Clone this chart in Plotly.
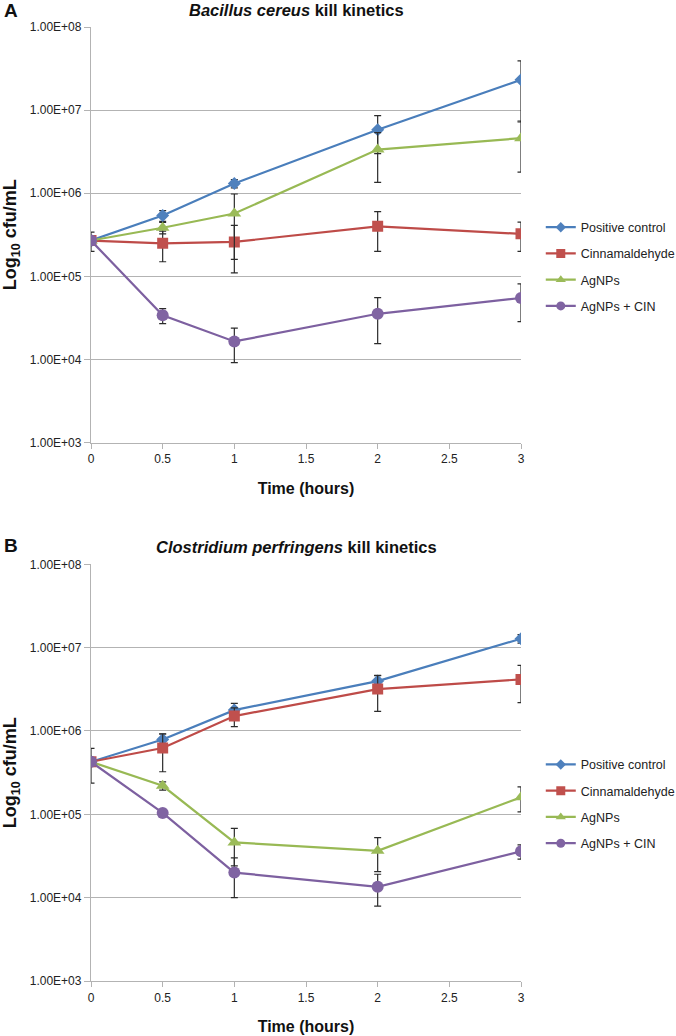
import plotly.graph_objects as go

# ---------------- data ----------------
time_h = [0, 0.5, 1, 2, 3]
series_names = ["Positive control", "Cinnamaldehyde", "AgNPs", "AgNPs + CIN"]

# Panel A: Bacillus cereus
A_pos = [2.7e5, 5.4e5, 1.31e6, 5.8e6, 2.32e7]
A_pos_sd = [2.0e4, 8.0e4, 1.5e5, 2.8e6, 1.6e7]
A_cin = [2.7e5, 2.5e5, 2.6e5, 4.0e5, 3.25e5]
A_cin_sd = [7.0e4, 1.0e5, 1.5e5, 2.0e5, 1.25e5]
A_ag = [2.7e5, 3.85e5, 5.7e5, 3.35e6, 4.6e6]
A_ag_sd = [2.0e4, 6.0e4, 4.1e5, 2.0e6, 2.8e6]
A_mix = [2.7e5, 3.4e4, 1.65e4, 3.55e4, 5.5e4]
A_mix_sd = [1.0e4, 7.0e3, 7.3e3, 2.0e4, 2.65e4]

# Panel B: Clostridium perfringens
B_pos = [4.27e5, 7.9e5, 1.78e6, 3.97e6, 1.28e7]
B_pos_sd = [1.0e4, 1.3e5, 3.6e5, 6.5e5, 1.5e6]
B_cin = [4.27e5, 6.24e5, 1.51e6, 3.18e6, 4.16e6]
B_cin_sd = [1.9e5, 3.0e5, 3.8e5, 1.46e6, 1.97e6]
B_ag = [4.27e5, 2.2e5, 4.6e4, 3.65e4, 1.6e5]
B_ag_sd = [1.0e4, 2.5e4, 2.2e4, 1.6e4, 5.3e4]
B_mix = [4.27e5, 1.04e5, 2.0e4, 1.35e4, 3.6e4]
B_mix_sd = [1.0e4, 5.0e3, 1.0e4, 5.6e3, 7.0e3]

y_tickvals = [1e3, 1e4, 1e5, 1e6, 1e7, 1e8]
y_ticktext = ["1.00E+03", "1.00E+04", "1.00E+05", "1.00E+06", "1.00E+07", "1.00E+08"]
x_tickvals = [0, 0.5, 1, 1.5, 2, 2.5, 3]
x_ticktext = ["0", "0.5", "1", "1.5", "2", "2.5", "3"]

# ---------------- styles ----------------
FONT = "Liberation Sans, Arial, sans-serif"
line_colors = ["#4A7EBB", "#BE4B48", "#98B954", "#7D60A0"]
marker_colors = ["#4F81BD", "#C0504D", "#9BBB59", "#8064A2"]
symbols = ["diamond", "square", "triangle-up", "circle"]
msizes = [10, 11, 12, 12]
legend_msizes = [8, 9, 9, 9]
GRID = "#B3B3B3"
ERR = "#2b2b2b"

fig = go.Figure()

panels = [
    ("x", "y", "legend", [(A_pos, A_pos_sd), (A_cin, A_cin_sd), (A_ag, A_ag_sd), (A_mix, A_mix_sd)]),
    ("x2", "y2", "legend2", [(B_pos, B_pos_sd), (B_cin, B_cin_sd), (B_ag, B_ag_sd), (B_mix, B_mix_sd)]),
]

for xa, ya, lg, data in panels:
    for i, (vals, sd) in enumerate(data):
        fig.add_trace(go.Scatter(
            x=time_h, y=vals, xaxis=xa, yaxis=ya,
            mode="lines+markers", name=series_names[i], showlegend=False,
            line=dict(color=line_colors[i], width=2.2),
            marker=dict(symbol=symbols[i], size=msizes[i], color=marker_colors[i],
                        line=dict(width=0)),
            error_y=dict(type="data", array=sd, visible=True, color=ERR,
                         thickness=1.2, width=3.5),
            hoverinfo="skip",
        ))
    # legend entries
    for i in range(4):
        fig.add_trace(go.Scatter(
            x=[None], y=[None], xaxis=xa, yaxis=ya,
            mode="lines+markers", name=series_names[i], legend=lg,
            legendgroup=f"{lg}_{i}",
            line=dict(color=line_colors[i], width=2.2),
            marker=dict(symbol=symbols[i], size=legend_msizes[i], color=marker_colors[i],
                        line=dict(width=0)),
        ))

xaxis_common = dict(
    range=[0, 3], tickvals=x_tickvals, ticktext=x_ticktext, automargin=False,
    showgrid=False, zeroline=False, showline=True, linecolor=GRID, linewidth=1.3,
    ticks="outside", ticklen=5, tickcolor=GRID, tickwidth=1.3,
    tickfont=dict(family=FONT, size=12, color="#222"),
    title=dict(text="<b>Time (hours)</b>", font=dict(family=FONT, size=16, color="#111"),
               standoff=17),
)
yaxis_common = dict(
    type="log", range=[3, 8.0001], tickvals=y_tickvals, ticktext=y_ticktext, automargin=False,
    showgrid=True, gridcolor=GRID, gridwidth=1.3, zeroline=False,
    showline=True, linecolor=GRID, linewidth=1.3,
    ticks="outside", ticklen=6, tickcolor=GRID, tickwidth=1.3,
    tickfont=dict(family=FONT, size=12, color="#222"),
    title=dict(text="<b>Log<sub>10</sub> cfu/mL</b>", font=dict(family=FONT, size=18, color="#111"),
               standoff=8),
)

legend_common = dict(
    font=dict(family=FONT, size=12.5, color="#222"),
    bgcolor="rgba(0,0,0,0)", borderwidth=0,
    traceorder="grouped", tracegroupgap=7,
    xanchor="left", yanchor="top", x=1.046,
)

fig.update_layout(
    width=676, height=1036,
    margin=dict(l=91, r=155, t=27, b=55, autoexpand=False),
    paper_bgcolor="white", plot_bgcolor="white",
    font=dict(family=FONT),
    xaxis=dict(**xaxis_common, domain=[0, 1], anchor="y"),
    yaxis=dict(**yaxis_common, domain=[0.5643, 1.0], anchor="x"),
    xaxis2=dict(**xaxis_common, domain=[0, 1], anchor="y2"),
    yaxis2=dict(**yaxis_common, domain=[0, 0.4368], anchor="x2"),
    legend=dict(**legend_common, y=0.8055),
    legend2=dict(**legend_common, y=0.2423),
    annotations=[
        dict(text="<b>A</b>", x=-0.207, y=1.0178, xref="paper", yref="paper",
             xanchor="left", yanchor="middle", showarrow=False,
             font=dict(family=FONT, size=19, color="#111")),
        dict(text="<b><i>Bacillus cereus</i> kill kinetics</b>", x=0.479, y=1.0178,
             xref="paper", yref="paper", xanchor="center", yanchor="middle", showarrow=False,
             font=dict(family=FONT, size=16.5, color="#111")),
        dict(text="<b>B</b>", x=-0.207, y=0.457, xref="paper", yref="paper",
             xanchor="left", yanchor="middle", showarrow=False,
             font=dict(family=FONT, size=19, color="#111")),
        dict(text="<b><i>Clostridium perfringens</i> kill kinetics</b>", x=0.479, y=0.4549,
             xref="paper", yref="paper", xanchor="center", yanchor="middle", showarrow=False,
             font=dict(family=FONT, size=16.5, color="#111")),
    ],
)

fig.write_html("out.html", config={"displayModeBar": False},
               post_script="document.body.style.margin='0';document.body.style.overflow='hidden';")
